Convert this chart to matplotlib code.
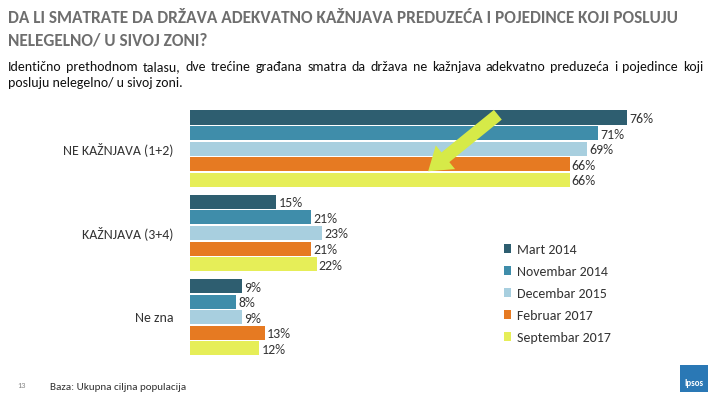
import matplotlib
matplotlib.use("Agg")
import matplotlib.pyplot as plt
from matplotlib.patches import Patch, FancyArrowPatch, Rectangle

# data
categories = ["NE KAŽNJAVA (1+2)", "KAŽNJAVA (3+4)", "Ne zna"]
waves = ["Mart 2014", "Novembar 2014", "Decembar 2015", "Februar 2017", "Septembar 2017"]
values = {
    "Mart 2014": [76, 15, 9],
    "Novembar 2014": [71, 21, 8],
    "Decembar 2015": [69, 23, 9],
    "Februar 2017": [66, 21, 13],
    "Septembar 2017": [66, 22, 12],
}
colors = ["#2E5E70", "#3F8DAA", "#A8CFDF", "#E67A22", "#E6EE58"]
subtitle_lines = [
    "Identično prethodnom talasu, dve trećine građana smatra da država ne kažnjava adekvatno preduzeća i pojedince koji",
    "posluju nelegelno/ u sivoj zoni.",
]

plt.rcParams['font.family'] = ['Carlito', 'DejaVu Sans']

W, H = 720, 405
fig = plt.figure(figsize=(7.2, 4.05), dpi=100)

def fx(px):
    return px / W

def fy(py):
    return 1 - py / H

# bar axes, positioned in pixels
ax_left, ax_right, ax_top, ax_bot = 190, 720, 105, 360
ax = fig.add_axes([fx(ax_left), fy(ax_bot), fx(ax_right - ax_left), (ax_bot - ax_top) / H])
px_per_pct = 5.75
ax.set_xlim(0, (ax_right - ax_left) / px_per_pct)
pitch = 15.6
group_gap = 5.4
top_val = -(117.5 - ax_top) / pitch
ax.set_ylim(top_val + (ax_bot - ax_top) / pitch, top_val)

for i, w in enumerate(waves):
    for g, v in enumerate(values[w]):
        y = g * group_gap + i
        ax.barh(y, v, height=0.9, color=colors[i], linewidth=0)
        ax.text(v + 0.4, y + 0.1, f"{v}%", va="center", ha="left", fontsize=10, color="#333333")

ax.set_yticks([g * group_gap + 2 for g in range(len(categories))])
ax.set_yticklabels(categories, fontsize=10, color="#333333")
ax.tick_params(axis="y", length=0, pad=12)
ax.set_xticks([])
for s in ax.spines.values():
    s.set_visible(False)
ax.patch.set_alpha(0)

# arrow pointing at the latest wave
arrow = FancyArrowPatch((fx(500), fy(113)), (fx(426), fy(173)), transform=fig.transFigure,
                        arrowstyle="simple,head_width=2.2,head_length=1.6,tail_width=0.9",
                        mutation_scale=10, color="#D6EA48", linewidth=0, zorder=5)
fig.patches.append(arrow)

# legend
handles = [Patch(facecolor=c, edgecolor="none") for c in colors]
fig.legend(handles, waves, loc="upper left", bbox_to_anchor=(fx(491), fy(231)),
           frameon=False, fontsize=10, handlelength=0.55, handleheight=0.55,
           handletextpad=0.45, labelspacing=0.72, labelcolor="#333333")

# titles
fig.text(fx(8), fy(18), "DA LI SMATRATE DA DRŽAVA ADEKVATNO KAŽNJAVA PREDUZEĆA I POJEDINCE KOJI POSLUJU",
         fontsize=12.4, fontweight="bold", color="#6E6E6E", va="center", ha="left")
fig.text(fx(8), fy(40), "NELEGELNO/ U SIVOJ ZONI?",
         fontsize=12.4, fontweight="bold", color="#6E6E6E", va="center", ha="left")

# justified first subtitle line, plain second line
renderer = fig.canvas.get_renderer()
words = subtitle_lines[0].split()
word_texts = [fig.text(0, fy(67), wd, fontsize=10, color="#111111", va="center", ha="left")
              for wd in words]
widths = [t.get_window_extent(renderer).width for t in word_texts]
gap = (703 - 8 - sum(widths)) / (len(words) - 1)
x = 8
for t, wdt in zip(word_texts, widths):
    t.set_x(fx(x))
    x += wdt + gap
fig.text(fx(8), fy(83), subtitle_lines[1], fontsize=10, color="#111111", va="center", ha="left")

# footer
fig.text(fx(17), fy(386), "13", fontsize=6, color="#888888", va="center")
fig.text(fx(50), fy(387), "Baza: Ukupna ciljna populacija", fontsize=8, color="#333333", va="center")
logo = Rectangle((fx(680), fy(392)), fx(28), 27 / H, transform=fig.transFigure,
                 facecolor="#2A78B5", edgecolor="none")
fig.patches.append(logo)
fig.text(fx(694), fy(384), "Ipsos", fontsize=6.5, color="white", ha="center", va="center", fontweight="bold")

fig.savefig("out.png", dpi=100)
